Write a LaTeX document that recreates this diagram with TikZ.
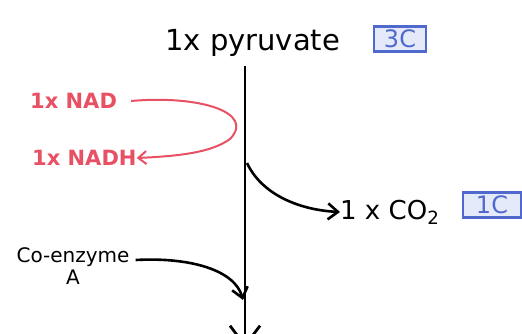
\documentclass[tikz,border=0pt]{standalone}
\usepackage{fontspec}
\setmainfont{DejaVu Sans}
\usetikzlibrary{arrows.meta}
\definecolor{nadred}{RGB}{232,80,100}
\definecolor{cblue}{RGB}{80,105,205}
\definecolor{cfill}{RGB}{228,234,250}
\begin{document}
\begin{tikzpicture}[x=1pt,y=-1pt,
  lbl/.style={font=\fontsize{29}{32}\selectfont, inner sep=0pt, anchor=west},
  redlbl/.style={font=\bfseries\fontsize{21}{24}\selectfont, text=nadred, inner sep=0pt, anchor=west},
  cbox/.style={draw=cblue, fill=cfill, text=cblue, line width=2.4pt, font=\fontsize{24}{26}\selectfont, inner sep=1pt, minimum height=25pt},
  arr/.style={line width=2.6pt, -{Straight Barb[length=10pt,width=16pt]}},
  redarr/.style={line width=2pt, draw=nadred, -{Straight Barb[length=8pt,width=13pt]}}]
\useasboundingbox (0,0) rectangle (522,333);
\fill[white] (0,0) rectangle (522,333);
\node[lbl] (pyr) at (165,43) {1x pyruvate};
\node[cbox, minimum width=52pt] (c3) at (400,39) {3C};
\coordinate (top) at (245,66);
\coordinate (bot) at (245,348);
\draw[line width=2.8pt, -{Straight Barb[length=20pt,width=30pt]}] (top) -- (bot);
\node[redlbl] (nad) at (30,101) {1x NAD};
\node[redlbl] (nadh) at (32,158) {1x NADH};
\draw[redarr] (nad.east) ++(14,0) .. controls (198,95) and (256,112) .. (230,139) .. controls (212,152) and (182,156) .. (nadh.east);
\coordinate (co2s) at (247,163);
\node[lbl, font=\fontsize{26}{30}\selectfont] (co2) at (340,212) {1 x CO\textsubscript{2}};
\node[cbox, minimum width=58pt] (c1) at (492,205) {1C};
\draw[arr] (co2s) .. controls (262,195) and (300,210) .. (co2.west);
\node[font=\fontsize{20}{22}\selectfont, inner sep=0pt, align=center] (coa) at (73,266) {Co-enzyme\\A};
\coordinate (coae) at (243,300);
\draw[arr] (coa.east |- 0,260) ++(6,0) .. controls (190,257) and (235,270) .. (coae);
\end{tikzpicture}
\end{document}
